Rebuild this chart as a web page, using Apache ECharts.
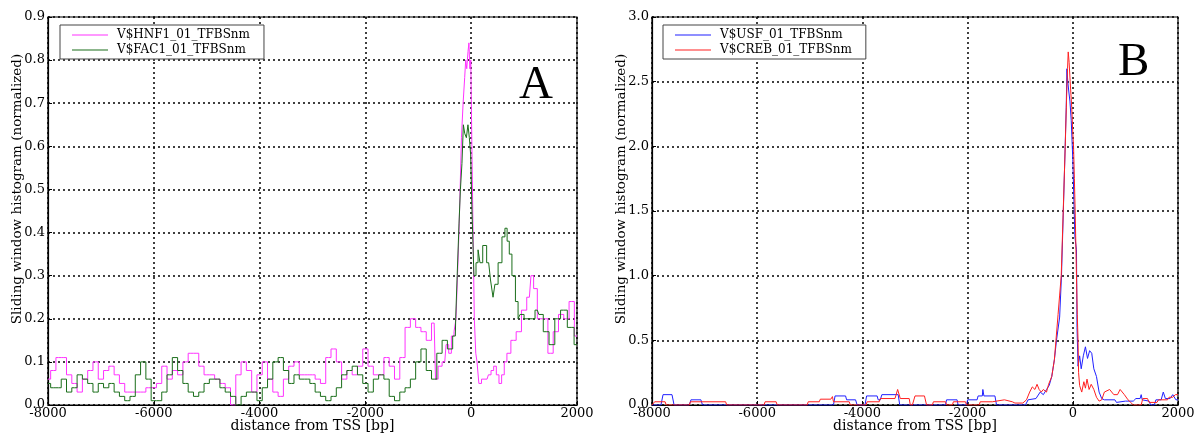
<!DOCTYPE html>
<html><head><meta charset="utf-8">
<script src="https://cdn.jsdelivr.net/npm/echarts@6/dist/echarts.min.js"></script>
<style>html,body{margin:0;padding:0;background:#fff}#c{width:1194px;height:436px}</style>
</head><body><div id="c"></div>
<script>
const xTicks = [-8000, -6000, -4000, -2000, 0, 2000];
const nameA1 = 'V$HNF1_01_TFBSnm';
const nameA2 = 'V$FAC1_01_TFBSnm';
const nameB1 = 'V$USF_01_TFBSnm';
const nameB2 = 'V$CREB_01_TFBSnm';

const hnf1 = [[-8000,0.06],[-7900,0.08],[-7800,0.11],[-7700,0.11],[-7600,0.07],[-7500,0.05],[-7400,0.03],[-7300,0.06],[-7200,0.08],[-7100,0.10],[-7000,0.06],[-6900,0.08],[-6800,0.09],[-6700,0.07],[-6600,0.05],[-6500,0.03],[-6400,0.03],[-6300,0.03],[-6200,0.03],[-6100,0.04],[-6000,0.04],[-5900,0.05],[-5800,0.09],[-5700,0.06],[-5600,0.08],[-5500,0.07],[-5400,0.10],[-5300,0.12],[-5200,0.12],[-5100,0.09],[-5000,0.07],[-4900,0.07],[-4800,0.06],[-4700,0.05],[-4600,0.04],[-4500,0.00],[-4400,0.07],[-4300,0.10],[-4200,0.08],[-4100,0.03],[-4000,0.07],[-3900,0.10],[-3800,0.06],[-3700,0.03],[-3600,0.02],[-3500,0.06],[-3400,0.09],[-3300,0.10],[-3200,0.07],[-3100,0.07],[-3000,0.07],[-2900,0.06],[-2800,0.05],[-2700,0.11],[-2600,0.13],[-2500,0.10],[-2400,0.06],[-2300,0.08],[-2200,0.07],[-2100,0.09],[-2000,0.13],[-1900,0.09],[-1800,0.07],[-1700,0.07],[-1600,0.11],[-1500,0.09],[-1400,0.06],[-1300,0.11],[-1200,0.18],[-1100,0.20],[-1000,0.18],[-900,0.17],[-800,0.15],[-700,0.19],[-650,0.06],[-600,0.09],[-500,0.10],[-450,0.14],[-400,0.12],[-350,0.16],[-300,0.17],[-275,0.20],[-243,0.30],[-220,0.40],[-199,0.50],[-170,0.62],[-136,0.70],[-110,0.76],[-98,0.80],[-70,0.78],[-50,0.82],[-36,0.84],[-15,0.78],[0,0.80],[25,0.60],[45,0.40],[73,0.20],[100,0.12],[120,0.10],[170,0.05],[220,0.06],[300,0.06],[350,0.07],[400,0.08],[450,0.09],[500,0.07],[550,0.05],[600,0.07],[650,0.10],[700,0.12],[800,0.15],[900,0.17],[1000,0.22],[1100,0.25],[1160,0.30],[1200,0.27],[1300,0.20],[1400,0.20],[1500,0.12],[1600,0.17],[1700,0.21],[1800,0.20],[1900,0.24],[2000,0.16]];

const fac1 = [[-8000,0.05],[-7900,0.04],[-7800,0.04],[-7700,0.06],[-7600,0.03],[-7500,0.04],[-7400,0.07],[-7300,0.06],[-7200,0.05],[-7100,0.03],[-7000,0.05],[-6900,0.04],[-6800,0.05],[-6700,0.03],[-6600,0.02],[-6500,0.01],[-6400,0.02],[-6300,0.07],[-6200,0.10],[-6100,0.06],[-6000,0.01],[-5900,0.01],[-5800,0.03],[-5700,0.07],[-5600,0.11],[-5500,0.08],[-5400,0.05],[-5300,0.03],[-5200,0.02],[-5100,0.03],[-5000,0.05],[-4900,0.06],[-4800,0.06],[-4700,0.04],[-4600,0.03],[-4500,0.02],[-4400,0.00],[-4300,0.02],[-4200,0.03],[-4100,0.03],[-4000,0.01],[-3900,0.04],[-3800,0.06],[-3700,0.10],[-3600,0.11],[-3500,0.08],[-3400,0.05],[-3300,0.07],[-3200,0.06],[-3100,0.06],[-3000,0.05],[-2900,0.03],[-2800,0.02],[-2700,0.01],[-2600,0.02],[-2500,0.04],[-2400,0.07],[-2300,0.08],[-2200,0.09],[-2100,0.07],[-2000,0.05],[-1900,0.03],[-1800,0.06],[-1700,0.07],[-1600,0.06],[-1500,0.02],[-1400,0.01],[-1300,0.03],[-1200,0.04],[-1100,0.06],[-1000,0.10],[-900,0.13],[-800,0.08],[-700,0.06],[-600,0.12],[-500,0.15],[-400,0.13],[-300,0.16],[-287,0.20],[-243,0.30],[-218,0.42],[-190,0.50],[-160,0.56],[-136,0.65],[-109,0.63],[-73,0.62],[-50,0.65],[-20,0.62],[0,0.58],[30,0.45],[73,0.30],[109,0.33],[150,0.36],[182,0.33],[254,0.37],[330,0.33],[400,0.29],[425,0.25],[472,0.28],[545,0.33],[618,0.39],[658,0.41],[700,0.38],[740,0.35],[800,0.30],[872,0.24],[900,0.20],[945,0.21],[1054,0.20],[1163,0.20],[1250,0.22],[1308,0.21],[1417,0.17],[1526,0.14],[1635,0.20],[1744,0.22],[1890,0.18],[2000,0.14]];

const usf = [[-8000,0],[-7830,0],[-7790,0.08],[-7620,0.08],[-7580,0],[-7290,0],[-7260,0.04],[-7070,0.04],[-7040,0],[-4550,0],[-4520,0.07],[-4320,0.07],[-4300,0.04],[-4130,0.04],[-4100,0],[-3950,0],[-3920,0.07],[-3720,0.07],[-3700,0.04],[-3660,0.04],[-3630,0.08],[-3320,0.08],[-3290,0],[-2420,0],[-2400,0.04],[-2200,0.04],[-2180,0],[-2020,0],[-2000,0.04],[-1820,0.04],[-1800,0.07],[-1720,0.07],[-1710,0.12],[-1690,0.07],[-1480,0.07],[-1450,0],[-900,0],[-850,0.04],[-700,0.05],[-620,0.10],[-560,0.08],[-500,0.12],[-450,0.15],[-400,0.22],[-350,0.35],[-310,0.50],[-250,0.68],[-215,1.0],[-180,1.5],[-145,2.0],[-125,2.3],[-112,2.6],[-95,2.5],[-75,2.42],[-55,2.35],[-30,2.2],[0,1.9],[20,1.6],[40,1.3],[70,1.2],[80,0.6],[100,0.3],[130,0.38],[160,0.28],[200,0.38],[240,0.45],[280,0.36],[320,0.42],[360,0.40],[400,0.28],[450,0.22],[500,0.10],[550,0.05],[600,0.04],[800,0.04],[830,0.02],[1000,0.03],[1150,0.03],[1200,0.05],[1280,0.05],[1300,0.08],[1320,0.04],[1450,0.03],[1480,0],[1550,0],[1580,0.04],[1680,0.04],[1720,0.10],[1760,0.05],[1850,0.05],[1900,0.08],[1960,0.04],[2000,0.04]];

const creb = [[-8000,0],[-7950,0.025],[-7750,0.025],[-7730,0],[-7290,0],[-7270,0.025],[-6600,0.025],[-6580,0],[-5870,0],[-5850,0.025],[-5640,0.025],[-5620,0],[-5050,0],[-5030,0.025],[-4820,0.025],[-4800,0.045],[-4600,0.045],[-4570,0.065],[-4550,0.025],[-4250,0.025],[-4230,0],[-3930,0],[-3910,0.025],[-3680,0.025],[-3660,0.05],[-3380,0.05],[-3330,0.12],[-3280,0.05],[-3110,0.05],[-3090,0],[-3050,0],[-3000,0.07],[-2820,0.07],[-2780,0],[-2670,0],[-2650,0.025],[-2420,0.025],[-2400,0],[-2290,0],[-2270,0.025],[-2040,0.025],[-2020,0],[-1780,0],[-1760,0.025],[-1530,0.025],[-1510,0.04],[-1300,0.04],[-1280,0.025],[-1150,0.025],[-1100,0.015],[-950,0.015],[-920,0],[-880,0.04],[-820,0.10],[-770,0.14],[-720,0.12],[-680,0.16],[-640,0.12],[-600,0.10],[-560,0.12],[-500,0.10],[-460,0.16],[-400,0.22],[-350,0.35],[-320,0.50],[-280,0.70],[-250,0.85],[-220,1.0],[-182,1.5],[-144,2.0],[-120,2.35],[-100,2.6],[-87,2.73],[-70,2.65],[-50,2.5],[-37,2.5],[-20,2.3],[0,2.1],[14,2.0],[30,1.75],[45,1.5],[70,1.0],[85,0.7],[100,0.5],[110,0.25],[130,0.15],[170,0.10],[210,0.18],[240,0.13],[270,0.20],[310,0.12],[350,0.16],[400,0.12],[450,0.06],[500,0.03],[550,0.04],[600,0.10],[700,0.12],[780,0.08],[850,0.08],[900,0.12],[980,0.08],[1050,0.04],[1100,0.02],[1150,0],[1300,0],[1330,0.05],[1420,0.05],[1450,0.02],[1600,0.02],[1630,0.04],[1800,0.04],[1830,0.06],[1900,0.06],[1950,0.08],[2000,0.08]];

const FONT = 'DejaVu Serif';
const chart = echarts.init(document.getElementById('c'), null, {renderer: 'canvas'});
function xAxis(gi) {
  return {
    type: 'value', gridIndex: gi, min: -8000, max: 2000, interval: 2000,
    name: 'distance from TSS [bp]', nameLocation: 'middle', nameGap: 14, nameMoveOverlap: false,
    nameTextStyle: {fontFamily: FONT, fontSize: 14, color: '#000'},
    axisLine: {show: true, onZero: false, lineStyle: {color: '#000', width: 1.2}},
    axisTick: {show: true, inside: true, length: 4, lineStyle: {color: '#000'}},
    axisLabel: {fontFamily: FONT, fontSize: 13, color: '#000', margin: 2, formatter: v => String(v)},
    splitLine: {show: true, lineStyle: {color: '#000', type: [2, 3], width: 1.5}}
  };
}
function yAxis(gi, max, interval) {
  return {
    type: 'value', gridIndex: gi, min: 0, max: max, interval: interval,
    name: 'Sliding window histogram (normalized)', nameLocation: 'middle', nameGap: 24, nameRotate: 90, nameMoveOverlap: false,
    nameTextStyle: {fontFamily: FONT, fontSize: 13.5, color: '#000', padding: [0, 0, 0, 44]},
    axisLine: {show: true, onZero: false, lineStyle: {color: '#000', width: 1.2}},
    axisTick: {show: true, inside: true, length: 4, lineStyle: {color: '#000'}},
    axisLabel: {fontFamily: FONT, fontSize: 13, color: '#000', margin: 3, formatter: v => v.toFixed(1)},
    splitLine: {show: true, lineStyle: {color: '#000', type: [2, 3], width: 1.5}}
  };
}
function line(name, data, color, xi, step) {
  return {type: 'line', name: name, data: data, xAxisIndex: xi, yAxisIndex: xi,
    showSymbol: false, symbol: 'none', step: step, animation: false,
    lineStyle: {color: color, width: 1}, itemStyle: {color: color}, z: 3};
}
function legend(left, names) {
  return {
    data: names, orient: 'vertical', left: left, top: 25, itemGap: 3,
    itemWidth: 36, itemHeight: 1, icon: 'rect',
    backgroundColor: '#fff', borderColor: '#444', borderWidth: 1, borderRadius: 0,
    padding: [4, 14, 3, 12],
    textStyle: {fontFamily: FONT, fontSize: 12, color: '#000', padding: [0, 0, 0, 4]}
  };
}
chart.setOption({
  animation: false,
  backgroundColor: '#fff',
  title: [
    {text: 'A', left: 519, top: 62, padding: 0, textStyle: {fontFamily: 'Liberation Serif', fontSize: 47, fontWeight: 'normal', color: '#000'}},
    {text: 'B', left: 1118, top: 39, padding: 0, textStyle: {fontFamily: 'Liberation Serif', fontSize: 47, fontWeight: 'normal', color: '#000'}}
  ],
  grid: [
    {left: 48, right: 617, top: 17, bottom: 31, outerBoundsMode: 'none', containLabel: false, show: true, borderColor: '#000', borderWidth: 1.2, backgroundColor: 'transparent'},
    {left: 652, right: 16, top: 17, bottom: 31, outerBoundsMode: 'none', containLabel: false, show: true, borderColor: '#000', borderWidth: 1.2, backgroundColor: 'transparent'}
  ],
  xAxis: [xAxis(0), xAxis(1)],
  yAxis: [yAxis(0, 0.9, 0.1), yAxis(1, 3.0, 0.5)],
  legend: [legend(60, [nameA1, nameA2]), legend(663, [nameB1, nameB2])],
  series: [
    line(nameA1, hnf1, '#ff33ff', 0, 'middle'),
    line(nameA2, fac1, '#1a6e1a', 0, 'middle'),
    line(nameB1, usf, '#2020ff', 1, false),
    line(nameB2, creb, '#ff2020', 1, false)
  ]
});
</script></body></html>
